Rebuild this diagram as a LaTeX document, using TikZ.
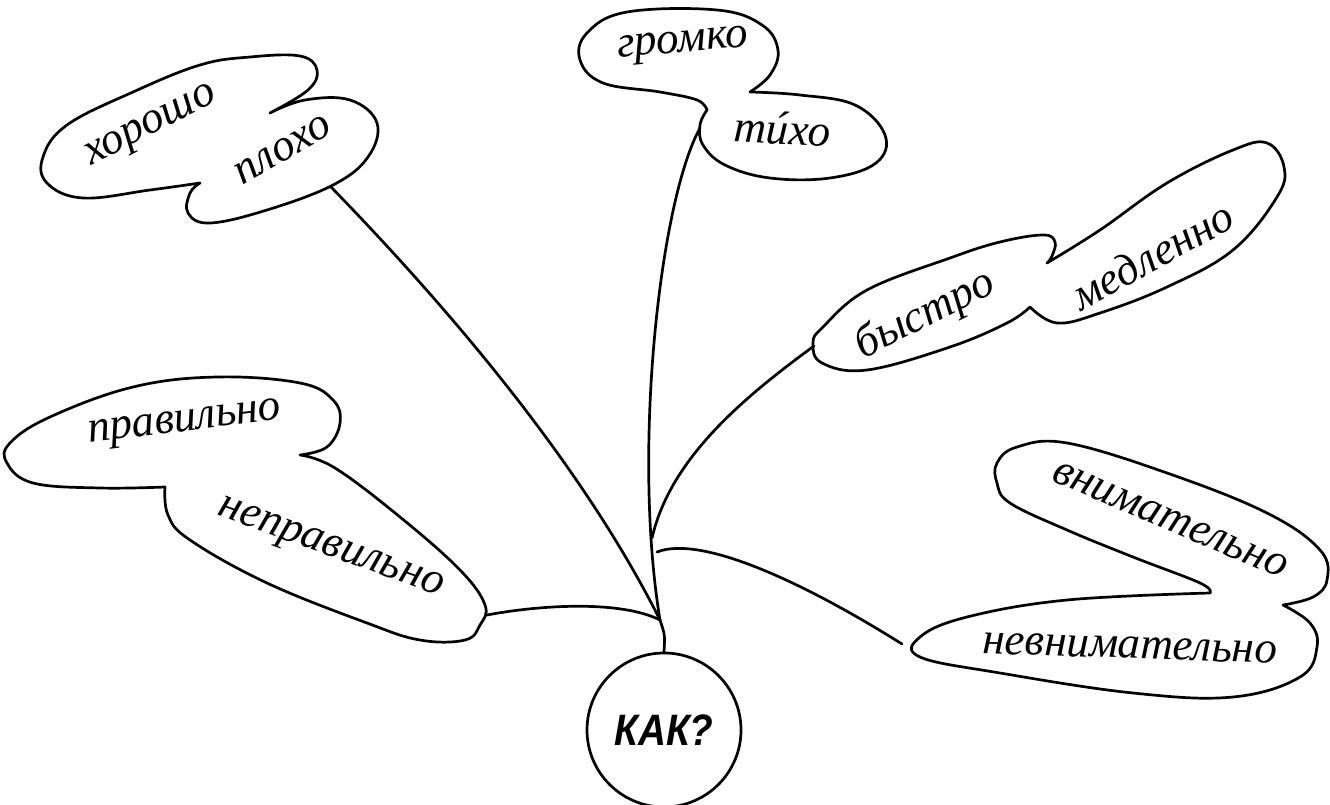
\documentclass[tikz,border=0pt]{standalone}
\usepackage{fontspec}
\setmainfont{Liberation Serif}
\newfontfamily\kakfont{Liberation Sans}
\newcommand{\accI}{\ooalign{и\cr\hidewidth\kern0.12em\raisebox{0.02em}{´}\hidewidth\cr}}
\begin{document}
\begin{tikzpicture}[x=1pt,y=-1pt,
  ink/.style={line width=2.7pt, black, line cap=round, line join=round},
  word/.style={font=\fontsize{45}{45}\selectfont\itshape, inner sep=0pt, transform shape},
  kakstyle/.style={circle, draw, ink, minimum size=154pt, inner sep=0pt,
    font=\kakfont\bfseries\itshape\fontsize{44}{44}\selectfont}]
\useasboundingbox (0,0) rectangle (1330,805);
\fill[white] (0,0) rectangle (1330,805);

% ---- cloud 1: хорошо / плохо
\draw[ink] plot[smooth,tension=.65] coordinates {(200,183) (150,190) (83,198) (47,183) (43,157) (67,125) (133,92) (200,65) (250,57) (300,56) (317,70) (308,90) (270,113)}
  -- plot[smooth,tension=.65] coordinates {(270,113) (305,100) (350,100) (377,123) (368,157) (333,185) (267,210) (210,223) (188,213) (190,193) (200,183)} -- cycle;
\coordinate (c1) at (331,187);
\node[word, rotate=27] (khorosho) at (152,128) {хорошо};
\node[word, rotate=30] (plokho) at (283,150) {плохо};

% ---- cloud 2: громко / тихо
\draw[ink] plot[smooth,tension=.65] coordinates {(707,110) (697,100) (660,92) (603,83) (580,60) (587,33) (627,12) (717,10) (762,25) (778,50) (770,75) (750,92)}
  -- plot[smooth,tension=.65] coordinates {(750,92) (800,95) (855,105) (885,135) (876,163) (830,178) (770,178) (725,165) (703,145) (700,125) (707,110)} -- cycle;
\coordinate (c2) at (700,128);
\node[word, rotate=5] (gromko) at (683,46) {громко};
\node[word, rotate=-3] (tikho) at (782,134) {т\accI хо};

% ---- cloud 3: быстро / медленно
\draw[ink] plot[smooth,tension=.65] coordinates {(1030,307) (1007,323) (950,347) (867,370) (822,363) (813,343) (823,327) (867,290) (950,258) (1000,242) (1043,235) (1055,242) (1052,256) (1047,263)}
  -- plot[smooth,tension=.65] coordinates {(1047,263) (1100,230) (1167,183) (1233,150) (1267,143) (1284,167) (1277,197) (1233,250) (1167,287) (1100,313) (1057,323) (1030,307)} -- cycle;
\coordinate (c3) at (814,346);
\node[word, rotate=27] (bystro) at (925,315) {быстро};
\node[word, rotate=29] (medlenno) at (1152,255) {медленно};

% ---- cloud 4: правильно / неправильно
\draw[ink] plot[smooth,tension=.65] coordinates {(165,487) (100,488) (33,483) (7,463) (10,443) (50,417) (133,387) (217,377) (300,383) (333,400) (340,423) (327,447) (300,455)}
  -- plot[smooth,tension=.65] coordinates {(300,455) (335,468) (400,517) (460,570) (485,605) (480,625) (465,640) (420,640) (367,623) (267,583) (190,540) (168,515) (165,487)} -- cycle;
\coordinate (c4) at (487,615);
\node[word, rotate=7] (pravilno) at (185,425) {правильно};
\node[word, rotate=-20] (nepravilno) at (330,550) {неправильно};

% ---- cloud 5: внимательно / невнимательно
\draw[ink] plot[smooth,tension=.65] coordinates {(1210,593) (1200,583) (1133,557) (1067,530) (1010,503) (997,483) (997,463) (1017,447) (1067,443) (1167,473) (1267,513) (1320,550) (1327,580) (1313,597) (1283,605)}
  -- plot[smooth,tension=.65] coordinates {(1283,605) (1310,623) (1317,647) (1300,677) (1233,697) (1133,693) (1000,673) (920,657) (920,637) (967,617) (1067,600) (1210,593)} -- cycle;
\coordinate (c5) at (902,644);
\node[word, rotate=-23] (vnimatelno) at (1170,520) {внимательно};
\node[word, rotate=-2] (nevnimatelno) at (1130,648) {невнимательно};

% ---- centre
\node[kakstyle] (kak) at (664,730) {\scalebox{0.88}[1]{КАК?}};
\coordinate (j) at (660,620);
\coordinate (e3) at (652,538);
\coordinate (e5) at (657,552);

% ---- connectors
\draw[ink] (c1) .. controls (470,330) and (590,480) .. (j);
\draw[ink] (c2) .. controls (660,200) and (632,450) .. (j);
\draw[ink] (c3) .. controls (740,400) and (670,460) .. (e3);
\draw[ink] (e5) .. controls (700,535) and (800,580) .. (c5);
\draw[ink] (c4) .. controls (540,605) and (620,600) .. (j);
\draw[ink] (j) .. controls (665,635) .. (kak.north);
\end{tikzpicture}
\end{document}
